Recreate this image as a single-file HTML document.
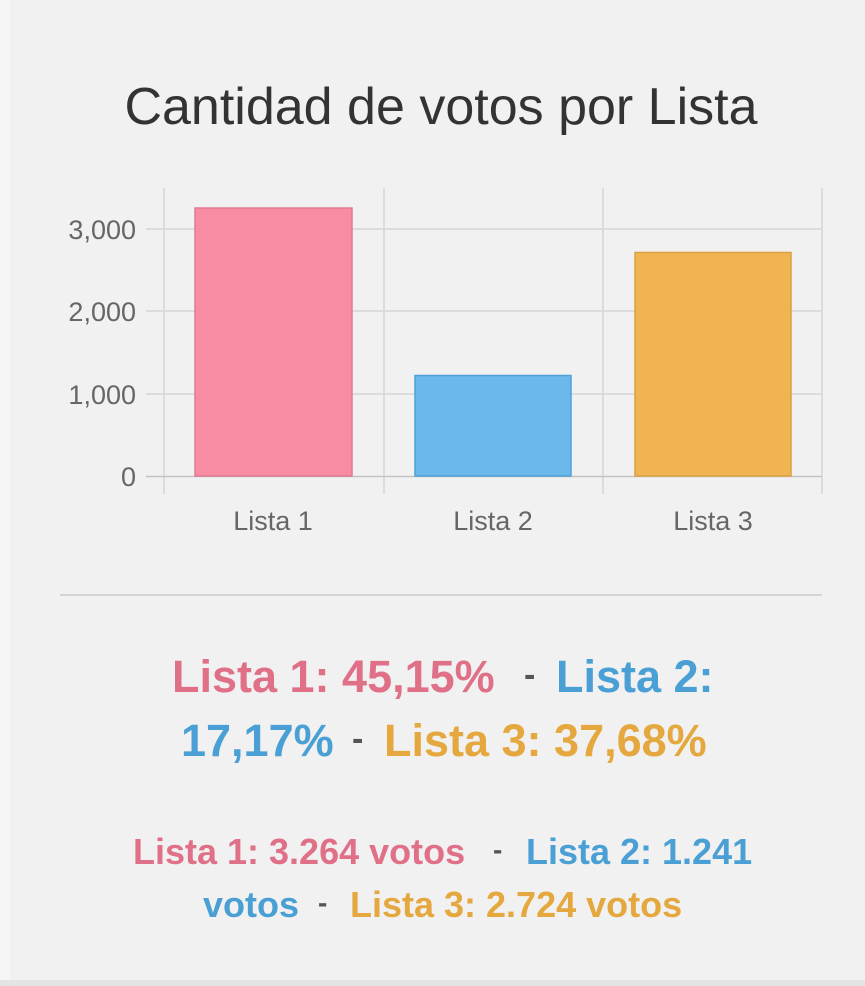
<!DOCTYPE html>
<html><head><meta charset="utf-8"><style>
body{margin:0;width:865px;height:986px;background:#f1f1f1;font-family:"Liberation Sans",sans-serif;position:relative;overflow:hidden}
.t{position:absolute;white-space:nowrap}
.b{font-weight:bold}
.r{color:#e07088}.bl{color:#4aa0d5}.o{color:#e4a83e}.g{color:#555}
</style></head><body>
<div style="position:absolute;left:0;top:0;width:10px;height:986px;background:#f6f6f6"></div>
<div style="position:absolute;left:0;top:980px;width:865px;height:6px;background:#e4e4e4"></div>
<div class="t" style="left:0;width:882px;text-align:center;top:77px;font-size:52px;color:#333">Cantidad de votos por Lista</div>
<svg class="t" style="left:0;top:0" width="865" height="560">
<g stroke="#d6d6d6" stroke-width="1.5">
<line x1="164" y1="188" x2="164" y2="494"/><line x1="384" y1="188" x2="384" y2="494"/>
<line x1="603" y1="188" x2="603" y2="494"/><line x1="822" y1="188" x2="822" y2="494"/>
<line x1="146" y1="229" x2="822" y2="229"/><line x1="146" y1="311" x2="822" y2="311"/>
<line x1="146" y1="394" x2="822" y2="394"/>
</g>
<line x1="146" y1="476.5" x2="822" y2="476.5" stroke="#c4c4c4" stroke-width="1.5"/>
<rect x="195" y="208" width="157" height="268" fill="#f88ca2" stroke="#e07a90" stroke-width="1.5"/>
<rect x="415" y="375.5" width="156" height="100.5" fill="#6cb8ea" stroke="#4fa2d8" stroke-width="1.5"/>
<rect x="635" y="252.5" width="156" height="223.5" fill="#f0b452" stroke="#dca040" stroke-width="1.5"/>
<g font-family="Liberation Sans, sans-serif" font-size="27" fill="#666" text-anchor="end">
<text x="136" y="239">3,000</text><text x="136" y="321">2,000</text>
<text x="136" y="404">1,000</text><text x="136" y="486">0</text>
</g>
<g font-family="Liberation Sans, sans-serif" font-size="27" fill="#666" text-anchor="middle">
<text x="273" y="530">Lista 1</text><text x="493" y="530">Lista 2</text><text x="713" y="530">Lista 3</text>
</g>
</svg>
<div style="position:absolute;left:60px;top:594px;width:762px;height:2px;background:#d4d4d4"></div>
<div class="t b r" style="left:172px;top:651px;font-size:45px">Lista 1: 45,15%</div>
<div class="t b g" style="left:524px;top:656px;font-size:34px">-</div>
<div class="t b bl" style="left:556px;top:651px;font-size:45px">Lista 2:</div>
<div class="t b bl" style="left:181px;top:715px;font-size:45px">17,17%</div>
<div class="t b g" style="left:352px;top:720px;font-size:34px">-</div>
<div class="t b o" style="left:384px;top:715px;font-size:45px">Lista 3: 37,68%</div>
<div class="t b r" style="left:133px;top:831px;font-size:36px">Lista 1: 3.264 votos</div>
<div class="t b g" style="left:493px;top:834px;font-size:28px">-</div>
<div class="t b bl" style="left:526px;top:831px;font-size:36px">Lista 2: 1.241</div>
<div class="t b bl" style="left:203px;top:884px;font-size:36px">votos</div>
<div class="t b g" style="left:318px;top:887px;font-size:28px">-</div>
<div class="t b o" style="left:350px;top:884px;font-size:36px">Lista 3: 2.724 votos</div>
</body></html>
